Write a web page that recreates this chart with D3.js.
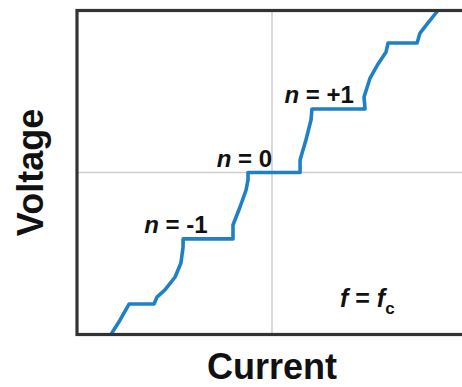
<!DOCTYPE html>
<html>
<head>
<meta charset="utf-8">
<script src="https://cdn.jsdelivr.net/npm/d3@7"></script>
<style>
html,body{margin:0;padding:0;background:#fff;}
svg{display:block;}
text{font-family:"Liberation Sans",Arial,sans-serif;font-weight:bold;fill:#111;}
</style>
</head>
<body>
<svg id="chart" width="462" height="387"></svg>
<script>
// Normalized current (x) and voltage (y)
const current = [-0.826,-0.779,-0.733,-0.605,-0.590,-0.549,-0.497,-0.467,-0.456,-0.456,
  -0.200,-0.200,-0.164,-0.133,-0.123,-0.123,0.144,0.144,0.174,0.200,0.205,0.477,0.472,
  0.503,0.544,0.585,0.595,0.744,0.759,0.800,0.851];
const voltage = [-1.0,-0.910,-0.812,-0.812,-0.769,-0.725,-0.645,-0.559,-0.460,-0.410,
  -0.410,-0.324,-0.213,-0.108,-0.046,0,0,0.077,0.201,0.324,0.392,0.392,0.466,
  0.583,0.670,0.744,0.799,0.799,0.861,0.923,1.0];
const stepLabels = ["-1","0","+1"];
const stepAnchor = [[-0.33,-0.41],[0.0,0.0],[0.42,0.392]];
const xTitle = "Current";
const yTitle = "Voltage";

const svg = d3.select("#chart");
const x = d3.scaleLinear().domain([-1,1]).range([77,467]);
const y = d3.scaleLinear().domain([-1,1]).range([334.5,10.5]);

// crosshair
svg.append("line").attr("x1",x(0)).attr("x2",x(0)).attr("y1",y(1)).attr("y2",y(-1))
  .attr("stroke","#cdcdcd").attr("stroke-width",1.5);
svg.append("line").attr("x1",x(-1)).attr("x2",x(1)).attr("y1",y(0)).attr("y2",y(0))
  .attr("stroke","#cdcdcd").attr("stroke-width",1.5);

// curve
const pts = current.map((c,i)=>[c,voltage[i]]);
svg.append("path").datum(pts)
  .attr("d", d3.line().x(d=>x(d[0])).y(d=>y(d[1])).curve(d3.curveLinear))
  .attr("fill","none").attr("stroke","#1f80c6").attr("stroke-width",3.6)
  .attr("stroke-linejoin","round").attr("stroke-linecap","butt");

// frame
svg.append("rect").attr("x",x(-1)).attr("y",y(1)).attr("width",x(1)-x(-1)).attr("height",y(-1)-y(1))
  .attr("fill","none").attr("stroke","#333").attr("stroke-width",3.2);

// step labels
stepLabels.forEach((s,i)=>{
  const t = svg.append("text").attr("x",x(stepAnchor[i][0])).attr("y",y(stepAnchor[i][1])-6)
    .attr("text-anchor","end").attr("font-size",24);
  t.append("tspan").attr("font-style","italic").text("n");
  t.append("tspan").text(" = " + s);
});

// f = fc
const ft = svg.append("text").attr("x",340).attr("y",307).attr("font-size",25);
ft.append("tspan").attr("font-style","italic").text("f");
ft.append("tspan").text(" = ");
ft.append("tspan").attr("font-style","italic").text("f");
ft.append("tspan").attr("font-size",17).attr("dy",7).text("c");

// axis titles
svg.append("text").attr("x",x(0)).attr("y",379).attr("text-anchor","middle")
  .attr("font-size",36).text(xTitle);
svg.append("text").attr("transform",`translate(43,${y(0)}) rotate(-90)`)
  .attr("text-anchor","middle").attr("font-size",36).text(yTitle);
</script>
</body>
</html>
